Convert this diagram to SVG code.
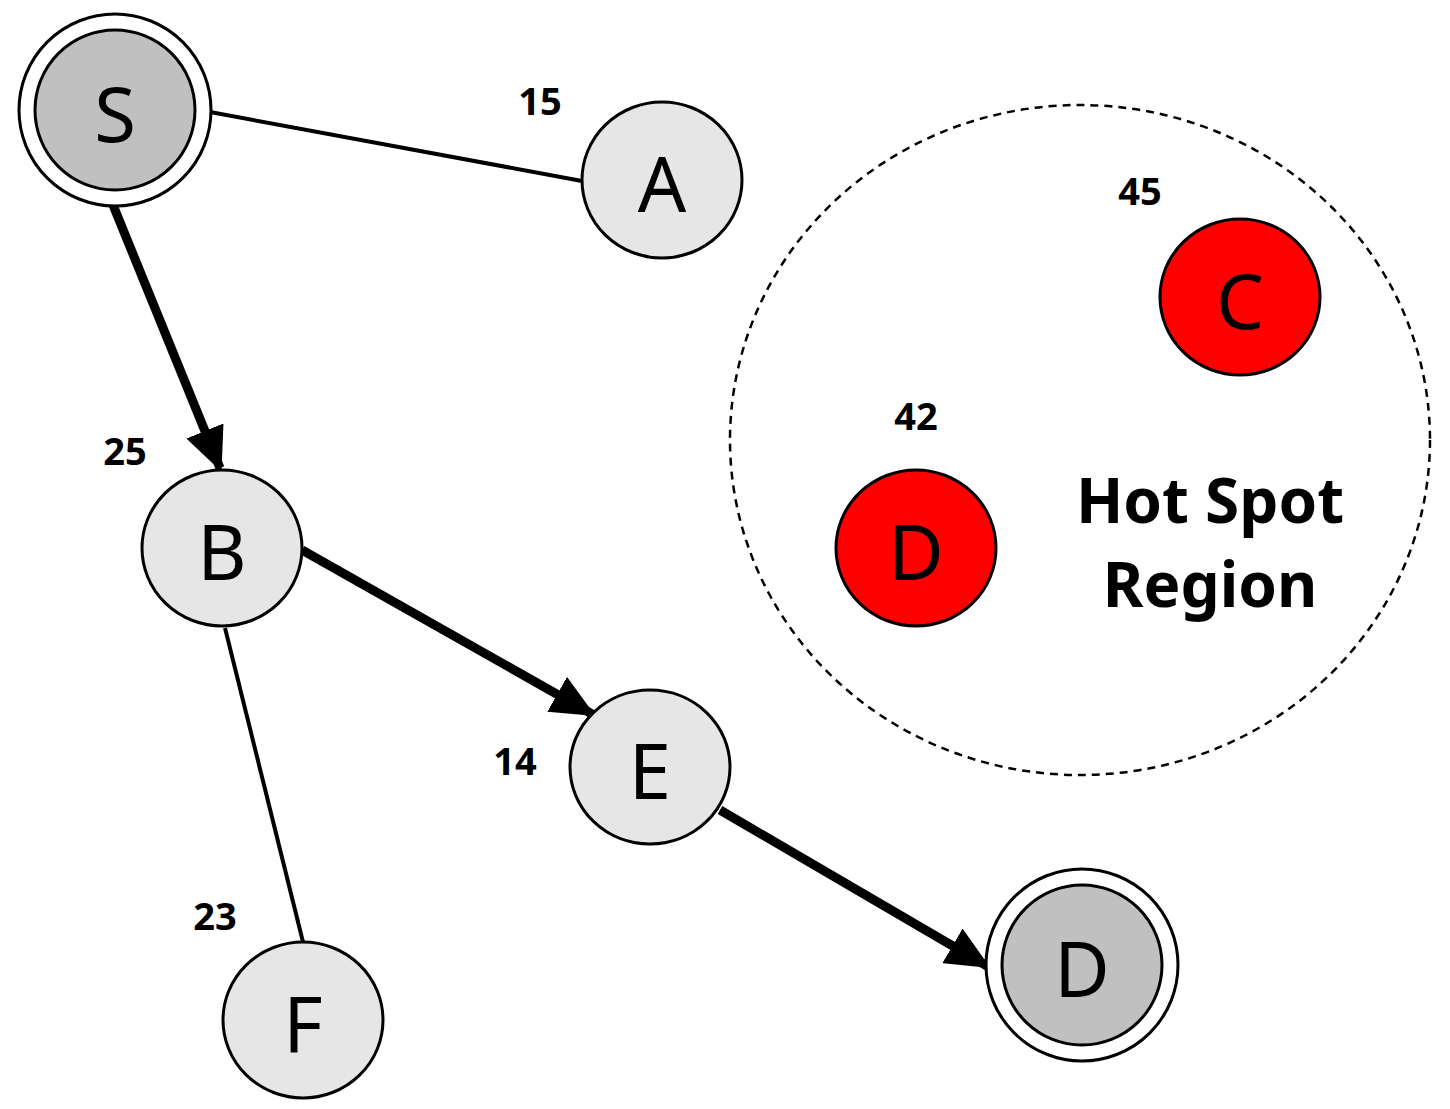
<svg xmlns="http://www.w3.org/2000/svg" width="1450" height="1109" viewBox="0 0 1450 1109">
<style>
.n{fill:#e6e6e6;stroke:#000;stroke-width:3}
.g{fill:#c0c0c0;stroke:#000;stroke-width:3}
.r{fill:#ff0000;stroke:#000;stroke-width:3}
.o{fill:#fff;stroke:#000;stroke-width:3}
.t{font-family:"Noto Sans","DejaVu Sans",sans-serif;font-size:76px;text-anchor:middle;dominant-baseline:central}
.w{font-family:"Noto Sans","DejaVu Sans",sans-serif;font-size:38px;font-weight:bold;text-anchor:middle}
.h{font-family:"Noto Sans","DejaVu Sans",sans-serif;font-size:62px;font-weight:bold;text-anchor:middle}
.thin{stroke:#000;stroke-width:4;fill:none}
.thick{stroke:#000;stroke-width:9;fill:none;marker-end:url(#ah)}
</style>
<defs>
<marker id="ah" markerUnits="userSpaceOnUse" markerWidth="44" markerHeight="40" refX="40" refY="20" orient="auto" viewBox="0 0 44 40">
<path d="M0,0 L44,20 L0,40 Z" fill="#000"/>
</marker>
</defs>
<rect width="1450" height="1109" fill="#fff"/>
<ellipse cx="1080" cy="440" rx="350" ry="335" fill="none" stroke="#000" stroke-width="2.5" stroke-dasharray="8,6"/>
<g id="connectors">
<line class="thin" x1="210" y1="112" x2="582" y2="181"/>
<line class="thin" x1="225" y1="628" x2="303" y2="942"/>
<line class="thick" x1="113" y1="205" x2="220" y2="468"/>
<line class="thick" x1="302" y1="550" x2="592" y2="714"/>
<line class="thick" x1="720" y1="810" x2="987" y2="966"/>
</g>
<g id="S"><circle class="o" cx="115" cy="110" r="96"/><circle class="g" cx="115" cy="110" r="80"/><text class="t" x="115" y="112">S</text></g>
<g id="A"><ellipse class="n" cx="662" cy="180" rx="80" ry="78"/><text class="t" x="662" y="182">A</text></g>
<g id="B"><ellipse class="n" cx="222" cy="548" rx="80" ry="78"/><text class="t" x="222" y="550">B</text></g>
<g id="E"><ellipse class="n" cx="650" cy="767" rx="80" ry="77"/><text class="t" x="650" y="769">E</text></g>
<g id="F"><ellipse class="n" cx="303" cy="1020" rx="80" ry="78"/><text class="t" x="303" y="1022">F</text></g>
<g id="Dend"><circle class="o" cx="1082" cy="965" r="96"/><circle class="g" cx="1082" cy="965" r="80"/><text class="t" x="1082" y="967">D</text></g>
<g id="C"><ellipse class="r" cx="1240" cy="297" rx="80" ry="78"/><text class="t" x="1240" y="299">C</text></g>
<g id="Dhot"><ellipse class="r" cx="916" cy="548" rx="80" ry="78"/><text class="t" x="916" y="550">D</text></g>
<g id="labels">
<text class="w" x="540" y="115">15</text>
<text class="w" x="1140" y="205">45</text>
<text class="w" x="916" y="430">42</text>
<text class="w" x="125" y="465">25</text>
<text class="w" x="515" y="775">14</text>
<text class="w" x="215" y="930">23</text>
<text class="h" x="1210" y="523">Hot Spot</text>
<text class="h" x="1210" y="607">Region</text>
</g>
</svg>
